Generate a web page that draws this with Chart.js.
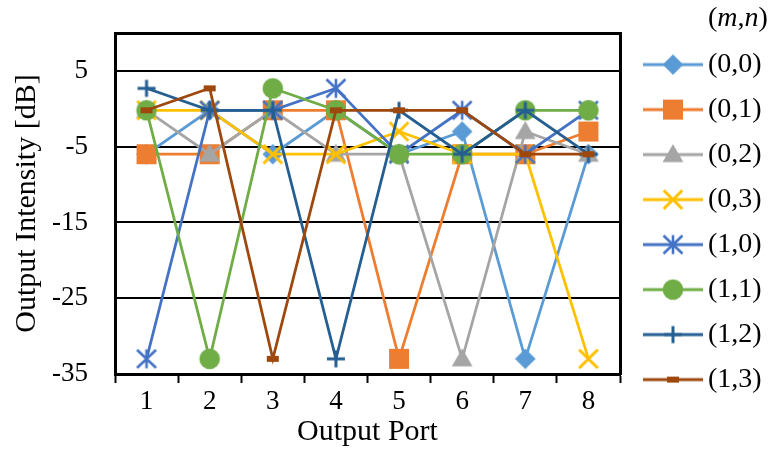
<!DOCTYPE html>
<html><head><meta charset="utf-8">
<script src="https://cdn.jsdelivr.net/npm/chart.js@4/dist/chart.umd.min.js"></script>
<style>html,body{margin:0;padding:0;background:#fff;}#wrap{width:770px;height:452px;}</style>
</head><body><div id="wrap"><canvas id="c" width="770" height="452"></canvas></div>
<script>
// ---- data ----
const categories = ['1', '2', '3', '4', '5', '6', '7', '8'];
const seriesNames = ['(0,0)', '(0,1)', '(0,2)', '(0,3)', '(1,0)', '(1,1)', '(1,2)', '(1,3)'];
const s00 = [-6, -0.2, -6, -0.2, -6, -3, -33, -6];
const s01 = [-6, -6, -0.2, -0.2, -33, -6, -6, -3];
const s02 = [-0.2, -6, -0.2, -6, -6, -33, -3, -6];
const s03 = [-0.2, -0.2, -6, -6, -3, -6, -6, -33];
const s10 = [-33, -0.2, -0.2, 2.7, -6, -0.2, -6, -0.2];
const s11 = [-0.2, -33, 2.7, -0.2, -6, -6, -0.2, -0.2];
const s12 = [2.7, -0.2, -0.2, -33, -0.2, -6, -0.2, -6];
const s13 = [-0.2, 2.7, -33, -0.2, -0.2, -0.2, -6, -6];
const yTicks = [-35, -25, -15, -5, 5];
const yMin = -35, yMax = 10;
const xTitle = 'Output Port';
const yTitle = 'Output Intensity [dB]';
const legendTitle = ['(', 'm', ',', 'n', ')'];

// ---- styles ----
const FONT = '"Liberation Serif", "Times New Roman", serif';
const colors = ['#5B9BD5', '#ED7D31', '#A5A5A5', '#FFC000', '#4472C4', '#70AD47', '#255E91', '#9E480E'];
const markers = ['diamond', 'square', 'triangle', 'x', 'asterisk', 'circle', 'plus', 'dash'];
const allSeries = [s00, s01, s02, s03, s10, s11, s12, s13];

function drawMarker(ctx, kind, x, y, color) {
  ctx.save();
  ctx.fillStyle = color; ctx.strokeStyle = color; ctx.lineCap = 'butt';
  ctx.beginPath();
  if (kind === 'diamond') {
    const r = 10.3;
    ctx.moveTo(x, y - r); ctx.lineTo(x + r, y); ctx.lineTo(x, y + r); ctx.lineTo(x - r, y); ctx.closePath(); ctx.fill();
  } else if (kind === 'square') {
    ctx.rect(x - 10, y - 10, 20, 20); ctx.fill();
  } else if (kind === 'triangle') {
    const r = 12;
    for (let k = 0; k < 3; k++) {
      const a = k * 2 * Math.PI / 3;
      const px = x + Math.sin(a) * r, py = y - Math.cos(a) * r + 1.5;
      if (k === 0) ctx.moveTo(px, py); else ctx.lineTo(px, py);
    }
    ctx.closePath(); ctx.fill();
  } else if (kind === 'x') {
    const d = 9.3; ctx.lineWidth = 3;
    ctx.moveTo(x - d, y - d); ctx.lineTo(x + d, y + d);
    ctx.moveTo(x + d, y - d); ctx.lineTo(x - d, y + d); ctx.stroke();
  } else if (kind === 'asterisk') {
    ctx.lineWidth = 2.6;
    ctx.moveTo(x, y - 9.5); ctx.lineTo(x, y + 9.5);
    ctx.moveTo(x - 9.5, y - 9); ctx.lineTo(x + 9.5, y + 9);
    ctx.moveTo(x + 9.5, y - 9); ctx.lineTo(x - 9.5, y + 9); ctx.stroke();
  } else if (kind === 'circle') {
    ctx.arc(x, y, 10.3, 0, Math.PI * 2); ctx.fill();
  } else if (kind === 'plus') {
    ctx.lineWidth = 3;
    ctx.moveTo(x - 9, y); ctx.lineTo(x + 9, y);
    ctx.moveTo(x, y - 8.5); ctx.lineTo(x, y + 8.5); ctx.stroke();
  } else if (kind === 'dash') {
    ctx.rect(x - 6, y - 3, 12, 6); ctx.fill();
  }
  ctx.restore();
}

function markerImage(kind, color) {
  const c = document.createElement('canvas');
  c.width = 26; c.height = 26;
  drawMarker(c.getContext('2d'), kind, 13, 13, color);
  return c;
}
function legendImage(kind, color) {
  const c = document.createElement('canvas');
  c.width = 60; c.height = 28;
  const ctx = c.getContext('2d');
  ctx.strokeStyle = color; ctx.lineWidth = 3;
  ctx.beginPath(); ctx.moveTo(0, 14); ctx.lineTo(60, 14); ctx.stroke();
  drawMarker(ctx, kind, 30, 14, color);
  return c;
}

const legendImgs = markers.map((m, i) => legendImage(m, colors[i]));

const datasets = allSeries.map((vals, i) => ({
  label: seriesNames[i],
  data: vals,
  borderColor: colors[i],
  backgroundColor: colors[i],
  borderWidth: 2.75,
  pointStyle: markerImage(markers[i], colors[i]),
  pointRadius: 10,
  pointHoverRadius: 10,
  tension: 0,
  fill: false,
  order: allSeries.length - 1 - i
}));

const titlePlugin = {
  id: 'mnTitle',
  afterDraw(chart) {
    const lg = chart.legend;
    if (!lg) return;
    const ctx = chart.ctx;
    let x = lg.left + 17 + 42 + 14;
    const y = 19;
    ctx.save();
    ctx.fillStyle = '#000'; ctx.textBaseline = 'middle'; ctx.textAlign = 'left';
    legendTitle.forEach(part => {
      const italic = (part === 'm' || part === 'n');
      ctx.font = (italic ? 'italic ' : '') + '28px ' + FONT;
      ctx.fillText(part, x, y);
      x += ctx.measureText(part).width;
    });
    ctx.restore();
  }
};

new Chart(document.getElementById('c'), {
  type: 'line',
  data: { labels: categories, datasets: datasets },
  plugins: [titlePlugin],
  options: {
    responsive: false, animation: false, devicePixelRatio: 1,
    layout: { padding: { left: 0, top: 0, bottom: 0, right: 8 } },
    plugins: {
      tooltip: { enabled: false },
      legend: {
        position: 'right', align: 'start',
        title: { display: true, text: ' ', padding: 0, font: { family: FONT, size: 28 } },
        labels: {
          usePointStyle: true, pointStyleWidth: 42, padding: 17, color: '#000',
          font: { family: FONT, size: 28 },
          generateLabels: chart => chart.data.datasets.map((ds, i) => ({
            text: ds.label, pointStyle: legendImgs[i], fillStyle: ds.borderColor,
            strokeStyle: ds.borderColor, lineWidth: 0, hidden: false, datasetIndex: i, fontColor: '#000'
          }))
        }
      }
    },
    scales: {
      x: {
        type: 'category', position: 'bottom', offset: true,
        grid: { display: true, drawOnChartArea: false, drawTicks: true, tickLength: 9, tickColor: '#000', tickWidth: 2, offset: true },
        border: { display: true, color: '#000', width: 3 },
        ticks: { color: '#000', font: { family: FONT, size: 27 }, padding: 3, maxRotation: 0, autoSkip: false },
        title: { display: true, text: xTitle, color: '#000', font: { family: FONT, size: 30 }, padding: { top: 0, bottom: 2 } },
        afterFit: s => { s.height = 78; s.paddingLeft = 0; s.paddingRight = 0; }
      },
      x2: {
        type: 'category', labels: categories, position: 'top', offset: true,
        grid: { display: true, drawOnChartArea: false, drawTicks: false },
        border: { display: true, color: '#000', width: 3 },
        ticks: { display: false },
        afterFit: s => { s.height = 33; s.paddingLeft = 0; s.paddingRight = 0; }
      },
      y: {
        type: 'linear', position: 'left', min: yMin, max: yMax,
        afterBuildTicks: s => { s.ticks = yTicks.map(v => ({ value: v })); },
        grid: { color: '#000', lineWidth: 2, drawTicks: false },
        border: { display: true, color: '#000', width: 3 },
        ticks: { color: '#000', font: { family: FONT, size: 27 }, padding: 27 },
        title: { display: true, text: yTitle, color: '#000', font: { family: FONT, size: 30 }, padding: { top: 9, bottom: 0 } },
        afterFit: s => { s.width = 115; s.paddingTop = 0; s.paddingBottom = 0; }
      },
      y2: {
        type: 'linear', position: 'right', min: yMin, max: yMax,
        grid: { display: true, drawOnChartArea: false, drawTicks: false },
        border: { display: true, color: '#000', width: 3 },
        ticks: { display: false },
        afterFit: s => { s.width = 15; s.paddingTop = 0; s.paddingBottom = 0; }
      }
    }
  }
});
</script>
</body></html>
